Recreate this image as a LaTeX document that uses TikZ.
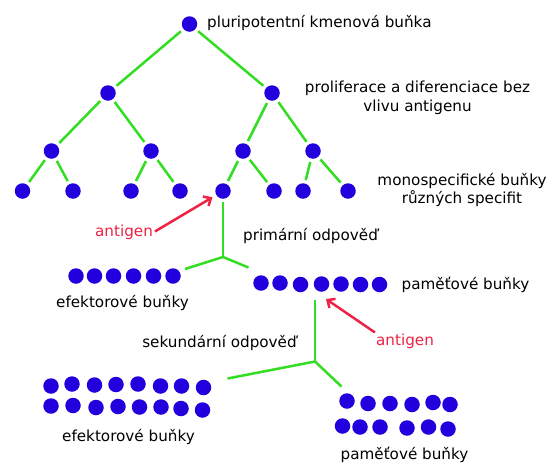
\documentclass[tikz,border=0pt]{standalone}
\usepackage{fontspec}
\setmainfont{DejaVu Sans}
\usetikzlibrary{arrows.meta}
\definecolor{cblue}{HTML}{2200DD}
\definecolor{cgreen}{HTML}{33DD22}
\definecolor{cred}{HTML}{EE2244}
\begin{document}
\begin{tikzpicture}[x=1pt,y=-1pt,
  cell/.style={circle,fill=cblue,minimum size=15.5pt,inner sep=0pt,outer sep=3.5pt},
  link/.style={draw=cgreen,line width=2.5pt},
  redarrow/.style={draw=cred,line width=2.5pt,-{Straight Barb[length=6pt,width=11pt,line width=2.5pt]}},
  lbl/.style={font=\fontsize{15.2}{18.5}\selectfont,align=center,inner sep=1pt},
  redlbl/.style={lbl,text=cred}]
\useasboundingbox (0,0) rectangle (546,464);
% tree
\node[cell] (r) at (189.5,24) {};
\node[cell] (a1) at (108,93) {};
\node[cell] (a2) at (272,93) {};
\node[cell] (b1) at (51.5,151) {};
\node[cell] (b2) at (151,151) {};
\node[cell] (b3) at (243,151) {};
\node[cell] (b4) at (313,151) {};
\node[cell] (c1) at (22.5,191) {};
\node[cell] (c2) at (73,191) {};
\node[cell] (c3) at (131,191) {};
\node[cell] (c4) at (180,191) {};
\node[cell] (c5) at (223,191) {};
\node[cell] (c6) at (274,191) {};
\node[cell] (c7) at (303,191) {};
\node[cell] (c8) at (348,191) {};
\draw[link] (r) -- (a1); \draw[link] (r) -- (a2);
\draw[link] (a1) -- (b1); \draw[link] (a1) -- (b2);
\draw[link] (a2) -- (b3); \draw[link] (a2) -- (b4);
\draw[link] (b1) -- (c1); \draw[link] (b1) -- (c2);
\draw[link] (b2) -- (c3); \draw[link] (b2) -- (c4);
\draw[link] (b3) -- (c5); \draw[link] (b3) -- (c6);
\draw[link] (b4) -- (c7); \draw[link] (b4) -- (c8);
% labels
\node[lbl,anchor=west] (t1) at (206,23) {pluripotentní kmenová buňka};
\node[lbl] (t2) at (417.5,98) {proliferace a diferenciace bez\\vlivu antigenu};
\node[lbl] (t3) at (462,190) {monospecifické buňky\\různých specifit};
\node[redlbl] (ag1) at (124,232) {antigen};
\node[lbl] (t4) at (310.5,236) {primární odpověď};
\node[lbl] (t5) at (122.5,302.5) {efektorové buňky};
\node[lbl] (t6) at (465.5,285) {paměťové buňky};
\node[lbl] (t7) at (219.5,343) {sekundární odpověď};
\node[redlbl] (ag2) at (405,341) {antigen};
\node[lbl] (t8) at (128.5,437) {efektorové buňky};
\node[lbl] (t9) at (404.5,455) {paměťové buňky};
% primary response
\coordinate (p0) at (223,257);
\coordinate (pe) at (185,269);
\coordinate (pm) at (248.5,267.5);
\draw[link] (c5) -- (p0);
\draw[link] (pe) -- (p0) -- (pm);
\draw[redarrow,shorten <=1pt,shorten >=1pt] (ag1.east) -- (c5);
\foreach \x [count=\i] in {76,94.5,113.5,133.5,153.5,173}
  \node[cell] (ef\i) at (\x,276) {};
\foreach \x/\y [count=\i] in {261/283,280/283,300.5/284.5,321.5/284,341/284,360.5/284.5,379.5/284.5}
  \node[cell] (pa\i) at (\x,\y) {};
% secondary response
\coordinate (s1) at (315,300);
\coordinate (s0) at (315,361.5);
\coordinate (se) at (227.5,378.5);
\coordinate (sm) at (341.5,386.5);
\coordinate (tip2) at (326,299);
\draw[link] (s1) -- (s0);
\draw[link] (se) -- (s0) -- (sm);
\draw[redarrow] (ag2.north west) -- (tip2);
\foreach \x/\y [count=\i] in {51/386,72/384,94.5/385,116/384.5,138/384,160.5/386,181.5/386,203.5/387.5}
  \node[cell] (eu\i) at (\x,\y) {};
\foreach \x/\y [count=\i] in {51/406,73/405.5,96/407.5,118/406.5,139.5/407,161/407,181/408.5,202.5/410}
  \node[cell] (ed\i) at (\x,\y) {};
\foreach \x/\y [count=\i] in {347/401,368/403.5,390/403.5,412/404.5,433/402.5,450/404.5}
  \node[cell] (mu\i) at (\x,\y) {};
\foreach \x/\y [count=\i] in {342.5/426,360/427,380/427,407/428,428.5/427,448/429}
  \node[cell] (md\i) at (\x,\y) {};
\end{tikzpicture}
\end{document}
